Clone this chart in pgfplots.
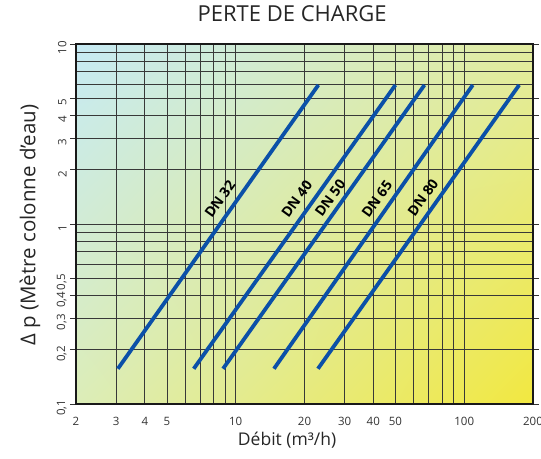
\documentclass[border=0pt]{standalone}
\usepackage{pgfplots}
\pgfplotsset{compat=1.18}
\usetikzlibrary{shadings}
\usepackage{fontspec}
\setmainfont{Open Sans}
\definecolor{lineblue}{HTML}{0B50A8}
\definecolor{bgUL}{HTML}{C6EAF4}
\definecolor{bgUR}{HTML}{E2ECA0}
\definecolor{bgLL}{HTML}{DCEDB8}
\definecolor{bgLR}{HTML}{F2E840}
\definecolor{txt}{HTML}{333333}
\begin{document}
\begin{tikzpicture}
\begin{axis}[
  name=ax, at={(0,0)}, anchor=south west,
  scale only axis, width=457pt, height=360pt,
  xmode=log, ymode=log,
  xmin=2, xmax=200, ymin=0.1, ymax=10,
  axis background/.style={shade, upper left=bgUL, upper right=bgUR, lower left=bgLL, lower right=bgLR},
  axis line style={line width=2.4pt, black!90},
  xtick={2,3,4,5,10,20,30,40,50,100,200},
  xticklabels={2,3,4,5,10,20,30,40,50,100,200},
  minor xtick={6,7,8,9,60,70,80,90},
  ytick={0.1,0.2,0.3,0.4,0.5,1,2,3,4,5,10},
  yticklabels={{0,1},{0,2},{0,3},{0,4},{0,5},1,2,3,4,5,10},
  minor ytick={0.6,0.7,0.8,0.9,6,7,8,9},
  grid=both,
  major grid style={black!78, line width=0.8pt},
  minor grid style={black!78, line width=0.8pt},
  xtick style={draw=none},
  minor tick length=0pt,
  ytick style={black!80, line width=0.7pt},
  major tick length=6pt,
  tick align=outside,
  /pgf/number format/assume math mode=true,
  ticklabel style={font=\fontsize{11.5}{13}\selectfont, text=txt},
  xticklabel style={yshift=-4pt},
  yticklabel style={rotate=90, anchor=south, xshift=-4pt},
  title={PERTE DE CHARGE},
  title style={at={(axis description cs:0.473,1.067)}, anchor=center, font=\fontsize{22}{24}\selectfont, text=black!85},
  xlabel={Débit (m³/h)},
  xlabel style={at={(axis description cs:0.462,-0.10)}, anchor=center, font=\fontsize{17.5}{19}\selectfont, text=black!85},
  ylabel={Δ p (Mètre colonne d’eau)},
  ylabel style={at={(axis description cs:-0.1007,0.497)}, anchor=center, rotate=0, font=\fontsize{20.5}{22}\selectfont, text=black!85},
  clip=false,
]
\addplot[lineblue, line width=3.8pt] coordinates {(3.05,0.157) (23.0,5.92)};
\addplot[lineblue, line width=3.8pt] coordinates {(6.55,0.157) (50.0,5.92)};
\addplot[lineblue, line width=3.8pt] coordinates {(8.8,0.157) (67.0,5.92)};
\addplot[lineblue, line width=3.8pt] coordinates {(14.7,0.157) (109.0,5.92)};
\addplot[lineblue, line width=3.8pt] coordinates {(22.9,0.157) (174.0,5.92)};
\node[rotate=54, font=\bfseries\fontsize{14}{15}\selectfont] at (axis cs:8.53,1.377) {DN 32};
\node[rotate=54, font=\bfseries\fontsize{14}{15}\selectfont] at (axis cs:18.5,1.377) {DN 40};
\node[rotate=54, font=\bfseries\fontsize{14}{15}\selectfont] at (axis cs:25.9,1.39) {DN 50};
\node[rotate=54, font=\bfseries\fontsize{14}{15}\selectfont] at (axis cs:41.5,1.377) {DN 65};
\node[rotate=54, font=\bfseries\fontsize{14}{15}\selectfont] at (axis cs:66.0,1.40) {DN 80};
\end{axis}
\pgfresetboundingbox
\path (-76pt,-54pt) rectangle (465pt,404pt);
\end{tikzpicture}
\end{document}
